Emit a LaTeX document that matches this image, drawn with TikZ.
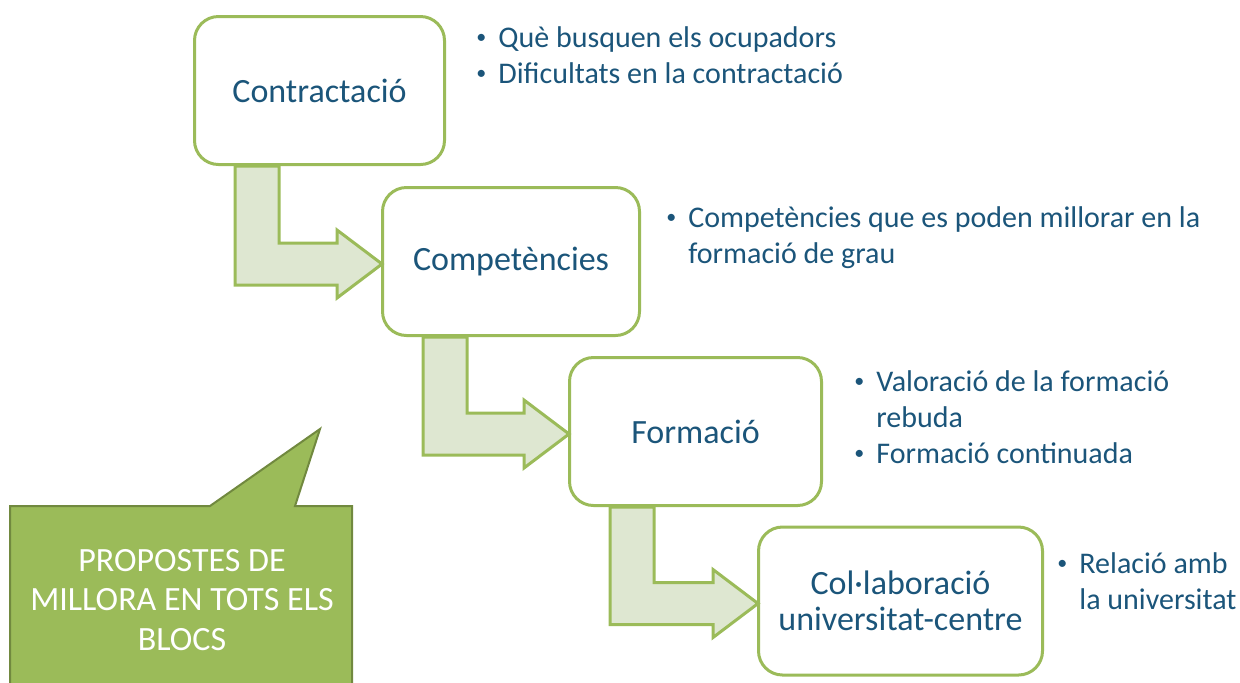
\documentclass[tikz,border=0pt]{standalone}
\usepackage{fontspec}
\setmainfont{Carlito}
\usetikzlibrary{calc}
\definecolor{leaf}{HTML}{9BBB59}
\definecolor{leafdark}{HTML}{71893F}
\definecolor{leaflight}{HTML}{DEE7D1}
\definecolor{ink}{HTML}{1B557A}
\tikzstyle{block} = [rectangle, rounded corners=12pt, minimum height=74pt, text centered, align=center, draw=leaf, line width=1.5pt, fill=white, text=ink, font=\fontsize{17}{18}\selectfont]
\tikzstyle{notes} = [anchor=base west, inner sep=0pt, text=ink, font=\fontsize{15}{18}\selectfont]
\tikzstyle{flow} = [draw=leaf, line width=1.5pt, fill=leaflight, line join=miter]
\tikzstyle{callout} = [draw=leafdark, line width=1pt, fill=leaf, line join=miter]
\newcommand{\stepflow}[2]{%
  \draw[flow] let \p1=(#1.south west), \p2=(#2.west) in
    (\x1+21pt,\y1) -- (\x1+21pt,\y2-11.75pt) -- (\x2-22pt,\y2-11.75pt)
    -- (\x2-22pt,\y2-18.25pt) -- (\x2+0.5pt,\y2-1.25pt) -- (\x2-22pt,\y2+15.75pt)
    -- (\x2-22pt,\y2+9.25pt) -- (\x1+43pt,\y2+9.25pt) -- (\x1+43pt,\y1) -- cycle;}
\newcommand{\dotmark}{\raisebox{2pt}{\fontsize{10}{10}\selectfont\textbullet}}
\newcommand{\points}[1]{\begin{tabular}[t]{@{}p{11pt}@{}l@{}}#1\end{tabular}}

\begin{document}
\begin{tikzpicture}[x=0.5pt, y=-0.5pt]
    \useasboundingbox (0,0) rectangle (1240,682);
    \begin{scope}
        \clip (0,0) rectangle (1240,682);
        \draw[callout] (10,690) -- (10,506) -- (210,506) -- (320,429) -- (295,506) -- (352,506) -- (352,690) -- cycle;
    \end{scope}
    \node (note) [white, align=center, font=\fontsize{17}{19.75}\selectfont] at (182,600) {PROPOSTES DE\\MILLORA EN TOTS ELS\\BLOCS};

    \node (contr) [block, minimum width=125pt] at (319.5,90.5) {Contractació};
    \node (comp) [block, minimum width=128.5pt] at (511,261.5) {Competències};
    \node (form) [block, minimum width=126pt] at (695.5,431.5) {Formació};
    \node (colab) [block, minimum width=142pt] at (900.5,601) {Col·laboració\\universitat-centre};

    \stepflow{contr}{comp}
    \stepflow{comp}{form}
    \stepflow{form}{colab}

    \node (contrnotes) [notes] at (476,47) {\points{\dotmark & Què busquen els ocupadors\\ \dotmark & Dificultats en la contractació}};
    \node (compnotes) [notes] at (666,227) {\points{\dotmark & Competències que es poden millorar en la\\ & formació de grau}};
    \node (formnotes) [notes] at (854,391) {\points{\dotmark & Valoració de la formació\\ & rebuda\\ \dotmark & Formació continuada}};
    \node (colabnotes) [notes] at (1057,573) {\points{\dotmark & Relació amb\\ & la universitat}};
\end{tikzpicture}
\end{document}
